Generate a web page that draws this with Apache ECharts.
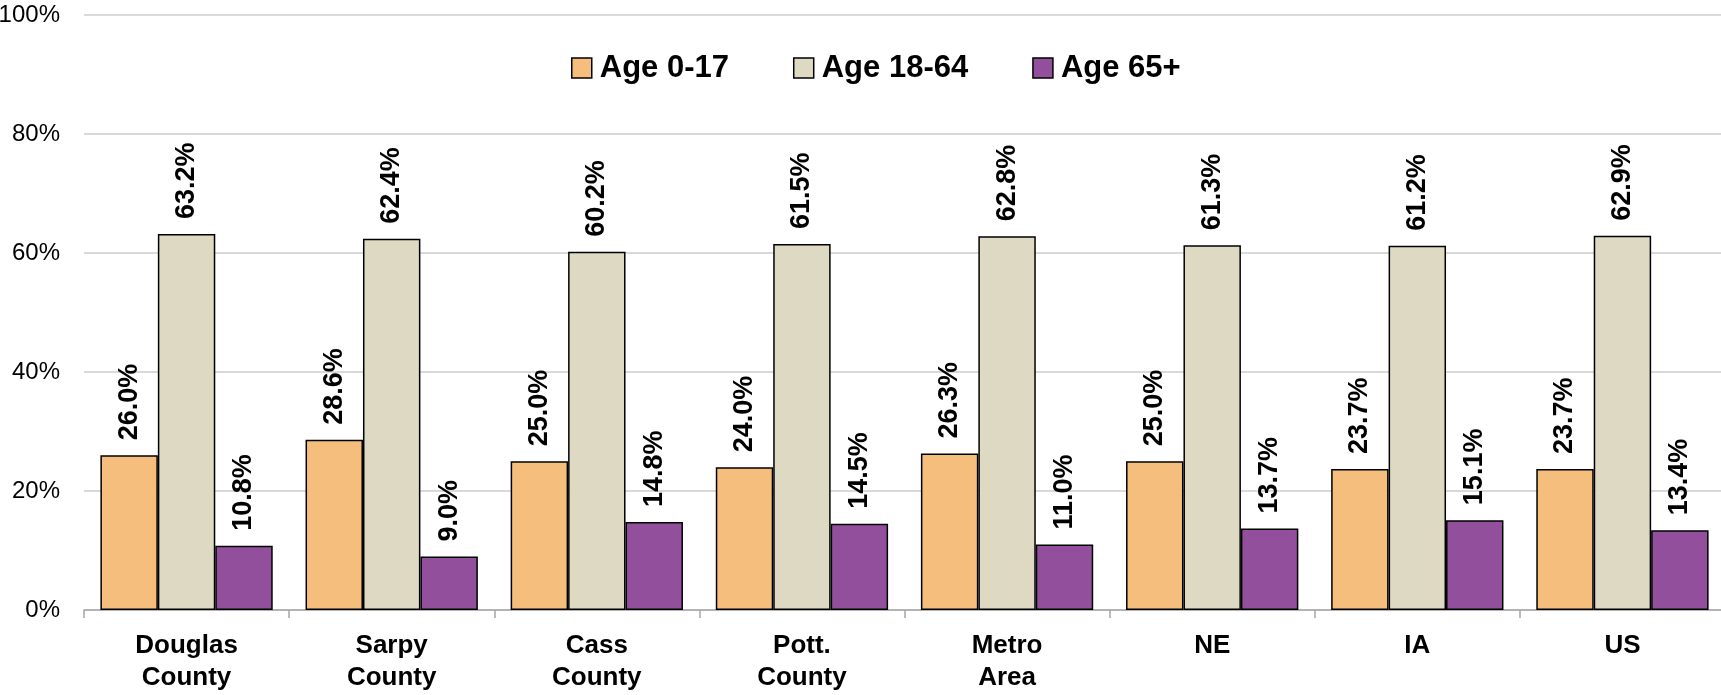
<!DOCTYPE html>
<html>
<head>
<meta charset="utf-8">
<script src="https://cdn.jsdelivr.net/npm/echarts@6/dist/echarts.min.js"></script>
<style>
  html, body { margin: 0; padding: 0; background: #fff; }
  #chart { width: 1721px; height: 695px; }
</style>
</head>
<body>
<div id="chart"></div>
<script>
// Population share by age group, per area
const categories = ['Douglas\nCounty', 'Sarpy\nCounty', 'Cass\nCounty', 'Pott.\nCounty', 'Metro\nArea', 'NE', 'IA', 'US'];
const age0to17 = [26.0, 28.6, 25.0, 24.0, 26.3, 25.0, 23.7, 23.7];
const age18to64 = [63.2, 62.4, 60.2, 61.5, 62.8, 61.3, 61.2, 62.9];
const age65plus = [10.8, 9.0, 14.8, 14.5, 11.0, 13.7, 15.1, 13.4];
const seriesNames = ['Age 0-17', 'Age 18-64', 'Age 65+'];
const yTicks = { min: 0, max: 100, interval: 20 };

const FONT = "'Liberation Sans Narrow', 'Arial Narrow', 'Liberation Sans', Arial, sans-serif";
const colors = ['#F5BE7C', '#DED9C3', '#92509C'];

function barSeries(name, data, color) {
  return {
    name: name,
    type: 'bar',
    data: data,
    barGap: '0%',
    barCategoryGap: '16%',
    itemStyle: { color: color, borderColor: '#000', borderWidth: 1.5 },
    label: {
      show: true,
      position: 'top',
      rotate: 90,
      align: 'left',
      verticalAlign: 'middle',
      distance: 15,
      fontFamily: FONT,
      fontWeight: 'bold',
      fontSize: 27,
      color: '#000',
      formatter: p => p.value.toFixed(1) + '%'
    }
  };
}

const chart = echarts.init(document.getElementById('chart'), null, { renderer: 'canvas' });
chart.setOption({
  animation: false,
  backgroundColor: '#fff',
  grid: { left: 84, right: -4, top: 15, bottom: 85, containLabel: false, outerBoundsMode: 'none' },
  legend: {
    data: seriesNames,
    left: 566,
    top: 45,
    itemWidth: 20,
    itemHeight: 20,
    itemGap: 64,
    icon: 'rect',
    itemStyle: { borderColor: '#000', borderWidth: 1.5 },
    textStyle: { fontFamily: FONT, fontWeight: 'bold', fontSize: 31, color: '#000', lineHeight: 36, padding: [0, 0, 0, 3] }
  },
  xAxis: {
    type: 'category',
    data: categories,
    axisLine: { lineStyle: { color: '#A6A6A6', width: 1.5 } },
    axisTick: { show: true, length: 8, lineStyle: { color: '#A6A6A6', width: 1.5 } },
    axisLabel: { fontFamily: FONT, fontWeight: 'bold', fontSize: 26, color: '#000', lineHeight: 32, margin: 20, interval: 0 }
  },
  yAxis: {
    type: 'value',
    min: yTicks.min,
    max: yTicks.max,
    interval: yTicks.interval,
    axisLine: { show: false },
    axisTick: { show: false },
    splitLine: { lineStyle: { color: '#D9D9D9', width: 2 } },
    axisLabel: { fontFamily: FONT, fontSize: 24, color: '#000', margin: 24, formatter: '{value}%' }
  },
  series: [
    barSeries(seriesNames[0], age0to17, colors[0]),
    barSeries(seriesNames[1], age18to64, colors[1]),
    barSeries(seriesNames[2], age65plus, colors[2])
  ]
});
</script>
</body>
</html>
